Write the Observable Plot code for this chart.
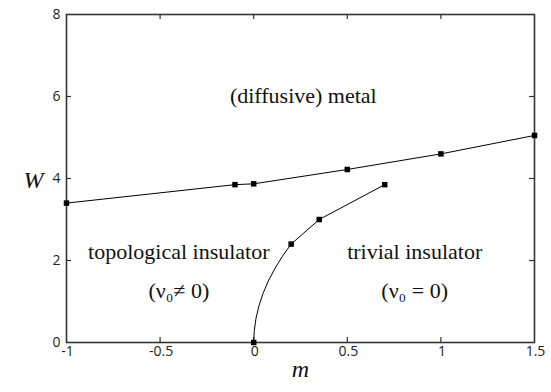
<!DOCTYPE html>
<html><head><meta charset="utf-8">
<script src="https://cdn.jsdelivr.net/npm/d3@7"></script>
<script src="https://cdn.jsdelivr.net/npm/@observablehq/plot@0.6"></script>
<style>body{margin:0;background:#fff}</style>
</head><body><div id="chart"></div>
<script>
// Metal / insulator boundary (upper line)
const metalM = [-1, -0.1, 0, 0.5, 1, 1.5];
const metalW = [3.4, 3.85, 3.87, 4.22, 4.6, 5.05];
// Topological / trivial insulator boundary
const insM = [0, 0.2, 0.35, 0.7];
const insW = [0, 2.4, 3.0, 3.85];
// Axis ticks
const xTicks = [-1, -0.5, 0, 0.5, 1, 1.5];
const yTicks = [0, 2, 4, 6, 8];
// Region labels
const regionLabels = ["(diffusive) metal", "topological insulator", "(ν₀≠ 0)", "trivial insulator", "(ν₀ = 0)"];
const labelM = [0.265, -0.40, -0.40, 0.86, 0.86];
const labelW = [6.02, 2.21, 1.26, 2.21, 1.26];

const metal = metalM.map((m, i) => ({m, W: metalW[i]}));
const ins = insM.map((m, i) => ({m, W: insW[i]}));
const labels = regionLabels.map((t, i) => ({t, m: labelM[i], W: labelW[i]}));

// first segment drawn as a parabola (x ∝ y²), rest straight
function sqrtCurve(context) {
  let pts = [];
  return {
    areaStart() {}, areaEnd() {},
    lineStart() { pts = []; },
    point(x, y) { pts.push([+x, +y]); },
    lineEnd() {
      if (!pts.length) return;
      context.moveTo(pts[0][0], pts[0][1]);
      if (pts.length > 1) context.quadraticCurveTo(pts[0][0], (pts[0][1] + pts[1][1]) / 2, pts[1][0], pts[1][1]);
      for (let i = 2; i < pts.length; i++) context.lineTo(pts[i][0], pts[i][1]);
    }
  };
}

const W = 551, H = 392, mL = 66, mR = 17, mT = 14, mB = 50;
const innerW = W - mL - mR, innerH = H - mT - mB;
const serif = "Liberation Serif";
const sans = "Open Sans";
const tickColor = "#333";

const chart = Plot.plot({
  width: W, height: H,
  marginLeft: mL, marginRight: mR, marginTop: mT, marginBottom: mB,
  x: {domain: [-1, 1.5], axis: null},
  y: {domain: [0, 8], axis: null},
  style: {background: "white"},
  marks: [
    Plot.frame({stroke: tickColor, strokeWidth: 1.6}),
    Plot.tickX(xTicks.slice(1, -1), {x: d => d, insetTop: innerH - 5, stroke: tickColor, strokeWidth: 1.2}),
    Plot.tickX(xTicks.slice(1, -1), {x: d => d, insetBottom: innerH - 5, stroke: tickColor, strokeWidth: 1.2}),
    Plot.tickY(yTicks.slice(1, -1), {y: d => d, insetRight: innerW - 5, stroke: tickColor, strokeWidth: 1.2}),
    Plot.tickY(yTicks.slice(1, -1), {y: d => d, insetLeft: innerW - 5, stroke: tickColor, strokeWidth: 1.2}),
    Plot.text(xTicks, {x: d => d, frameAnchor: "bottom", dy: 13, dx: 1, text: d => String(d), fontSize: 14, fontFamily: sans, fill: "#222"}),
    Plot.text(yTicks, {y: d => d, frameAnchor: "left", dx: -6, textAnchor: "end", text: d => String(d), fontSize: 14, fontFamily: sans, fill: "#222"}),
    Plot.line(metal, {x: "m", y: "W", stroke: "black", strokeWidth: 1}),
    Plot.line(ins, {x: "m", y: "W", stroke: "black", strokeWidth: 1, curve: sqrtCurve}),
    Plot.dot(metal, {x: "m", y: "W", symbol: "square", r: 3.1, fill: "black"}),
    Plot.dot(ins, {x: "m", y: "W", symbol: "square", r: 3.1, fill: "black"}),
    Plot.text(labels, {x: "m", y: "W", text: "t", fontSize: 22, fontFamily: serif, fill: "#111"}),
    Plot.text(["W"], {frameAnchor: "left", dx: -43, dy: 2, fontSize: 24, fontStyle: "italic", fontFamily: serif, fill: "#111"}),
    Plot.text(["m"], {frameAnchor: "bottom", dy: 34, fontSize: 24, fontStyle: "italic", fontFamily: serif, fill: "#111"})
  ]
});
document.getElementById("chart").appendChild(chart);
</script>
</body></html>
